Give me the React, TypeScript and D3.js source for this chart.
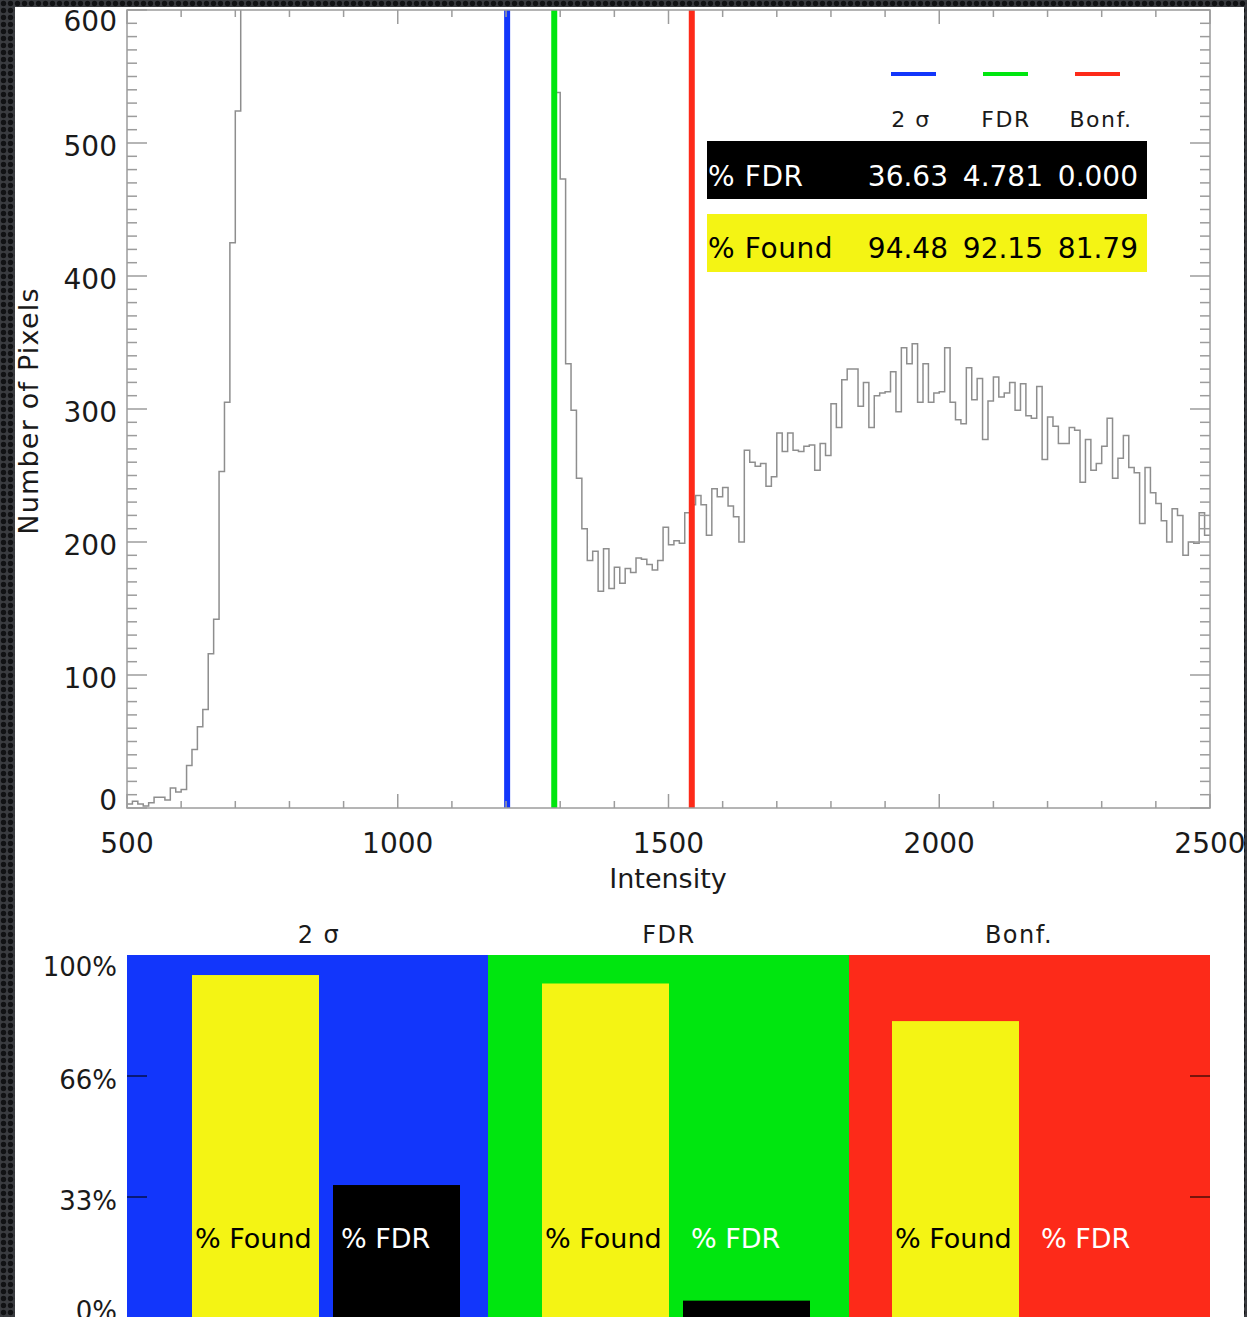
import React from "react";
import * as d3 from "d3";

// Histogram of pixel intensities: bins of 10 starting at 500
const histStart = 500;
const binWidth = 10;
const pixelCounts = [
  3, 5, 3, 1.5, 4, 8, 8, 6, 15, 12, 14,
  32, 44, 61, 74, 116, 142, 253, 305, 425, 524,
  690, 820, 960, 1110, 1270, 1420, 1580, 1720, 1850, 1960,
  2050, 2120, 2160, 2180, 2170, 2140, 2090, 2020, 1940, 1850,
  1750, 1650, 1550, 1450, 1350, 1260, 1180, 1100, 1030, 970,
  920, 880, 850, 830, 815, 805, 800, 795, 790, 785,
  780, 775, 770, 765, 760, 755, 750, 745, 740, 735,
  730, 725, 720, 710, 700, 680, 655, 620,
  538, 473, 334, 299, 248, 210, 186, 193, 163, 195, 165, 181, 169, 180, 177, 188, 187, 183, 179, 186, 211,
  198, 201, 199, 222, 228, 235, 228, 205, 240, 234, 241, 227, 219, 200, 269, 260, 257, 259, 242, 249,
  282, 268, 282, 269, 268, 272, 273, 254, 274, 265, 304, 286, 322, 330, 330, 302, 320, 286, 310, 312,
  313, 328, 298, 346, 334, 349, 305, 334, 305, 312, 313, 346, 305, 292, 289, 331, 307, 323, 277, 306,
  324, 309, 312, 320, 299, 319, 295, 293, 317, 262, 294, 287, 274, 274, 286, 284, 245, 277, 254, 259,
  272, 293, 248, 263, 280, 256, 252, 214, 256, 237, 229, 216, 200, 225, 220, 190, 200, 199, 222, 205,
];

// Thresholding methods
const methods = ["2 σ", "FDR", "Bonf."];
const thresholds = [1202, 1289, 1543];
const percentFDR = [36.63, 4.781, 0.0];
const percentFound = [94.48, 92.15, 81.79];
const methodColors = ["#1236fb", "#00e60f", "#fd2a19"];

const xTicks = [500, 1000, 1500, 2000, 2500];
const yTicks = [0, 100, 200, 300, 400, 500, 600];
const pctTickLabels = ["0%", "33%", "66%", "100%"];

const W = 1247;
const H = 1317;
const FONT = "'DejaVu Sans', sans-serif";
const INK = "#1a1a1a";
const AXIS = "#9c9c9c";
const YELLOW = "#f4f414";

export default function App() {
  // ---- upper histogram panel ----
  const x = d3.scaleLinear().domain([500, 2500]).range([127, 1210]);
  const y = d3.scaleLinear().domain([0, 600]).range([808, 10]);

  const pts: [number, number][] = pixelCounts.map((c, i) => [histStart + i * binWidth, c]);
  pts.push([histStart + pixelCounts.length * binWidth, pixelCounts[pixelCounts.length - 1]]);
  const stepLine = d3
    .line<[number, number]>()
    .x((d) => x(d[0]))
    .y((d) => y(d[1]))
    .curve(d3.curveStepAfter);

  const xMinor = d3.range(500, 2501, 100);
  const yMinor = d3.range(0, 601, 10);
  const [x0, x1] = x.range();
  const [yb0, yt0] = y.range();

  // legend / table columns (right edges of the value columns)
  const col = d3.scalePoint<string>().domain(methods).range([948, 1138]);
  const fmt = d3.format(".4r");

  // ---- lower bar panel ----
  const band = d3.scaleBand<string>().domain(methods).range([127, 1210]).paddingInner(0).paddingOuter(0);
  // left edge of each method's bar pair
  const pairStart = d3.scalePoint<string>().domain(methods).range([192, 892]);
  const barW = 127;
  const barGap = 14;
  const yPct = d3.scaleLinear().domain([0, 100]).range([1318, 955]);
  const pctTickVals = pctTickLabels.map((_, i) => (i * 100) / (pctTickLabels.length - 1));

  const yLabelShift = (i: number, n: number) => (i === 0 ? -8 : i === n - 1 ? 11 : 3);

  return (
    <svg
      width={W}
      height={H}
      style={{ position: "absolute", left: 0, top: 0, display: "block" }}
      fontFamily={FONT}
    >
      <defs>
        <pattern id="slideTexture" width="7" height="7" patternUnits="userSpaceOnUse">
          <rect width="7" height="7" fill="#3a3c40" />
          <circle cx="3.5" cy="3.5" r="2.7" fill="#111214" />
        </pattern>
        <clipPath id="panelClip">
          <rect x={15} y={7} width={1229} height={1310} />
        </clipPath>
        <clipPath id="plotClip">
          <rect x={x0} y={yt0} width={x1 - x0} height={yb0 - yt0} />
        </clipPath>
      </defs>

      <rect width={W} height={H} fill="url(#slideTexture)" />
      <rect x={15} y={7} width={1229} height={1310} fill="#ffffff" />

      <g clipPath="url(#panelClip)">
        {/* histogram */}
        <path
          d={stepLine(pts) ?? ""}
          fill="none"
          stroke="#8e8e8e"
          strokeWidth={1.5}
          clipPath="url(#plotClip)"
        />

        {/* threshold lines */}
        {methods.map((m, i) => (
          <line
            key={m}
            x1={x(thresholds[i])}
            x2={x(thresholds[i])}
            y1={yt0}
            y2={yb0}
            stroke={methodColors[i]}
            strokeWidth={6}
          />
        ))}

        {/* frame */}
        <rect x={x0} y={yt0} width={x1 - x0} height={yb0 - yt0} fill="none" stroke={AXIS} strokeWidth={1.5} />

        {/* x ticks, top and bottom */}
        {xMinor.map((v) => {
          const len = v % 500 === 0 ? 14 : 7;
          return (
            <g key={`xt${v}`} stroke={AXIS} strokeWidth={1.5}>
              <line x1={x(v)} x2={x(v)} y1={yb0} y2={yb0 - len} />
              <line x1={x(v)} x2={x(v)} y1={yt0} y2={yt0 + len} />
            </g>
          );
        })}
        {/* y ticks, left and right */}
        {yMinor.map((v) => {
          const len = v % 100 === 0 ? 20 : 10;
          return (
            <g key={`yt${v}`} stroke={AXIS} strokeWidth={1.5}>
              <line x1={x0} x2={x0 + len} y1={y(v)} y2={y(v)} />
              <line x1={x1} x2={x1 - len} y1={y(v)} y2={y(v)} />
            </g>
          );
        })}

        {/* tick labels */}
        {xTicks.map((v) => (
          <text key={`xl${v}`} x={x(v)} y={853} textAnchor="middle" fontSize={28} fill={INK}>
            {v}
          </text>
        ))}
        {yTicks.map((v, i) => (
          <text
            key={`yl${v}`}
            x={117}
            y={y(v) + yLabelShift(i, yTicks.length) + 10}
            textAnchor="end"
            fontSize={28}
            fill={INK}
          >
            {v}
          </text>
        ))}

        {/* axis titles */}
        <text x={668} y={888} textAnchor="middle" fontSize={27} fill={INK}>
          Intensity
        </text>
        <text
          transform="translate(38,411) rotate(-90)"
          textAnchor="middle"
          fontSize={27}
          letterSpacing={1.2}
          fill={INK}
        >
          Number of Pixels
        </text>

        {/* legend */}
        {methods.map((m, i) => {
          const r = col(m) as number;
          return (
            <g key={`lg${m}`}>
              <line x1={r - 57 + i * -3} x2={r - 12 + i * -3} y1={74} y2={74} stroke={methodColors[i]} strokeWidth={4} />
              <text x={r - 37} y={127} textAnchor="middle" fontSize={22} letterSpacing={1.5} fill={INK}>
                {m}
              </text>
            </g>
          );
        })}

        {/* summary table */}
        <rect x={707} y={141} width={440} height={58} fill="#000000" />
        <rect x={707} y={214} width={440} height={58} fill={YELLOW} />
        <text x={708} y={186} fontSize={28} letterSpacing={0.6} fill="#ffffff">
          % FDR
        </text>
        <text x={708} y={258} fontSize={28} letterSpacing={0.6} fill="#000000">
          % Found
        </text>
        {methods.map((m, i) => (
          <g key={`tv${m}`}>
            <text x={col(m)} y={186} textAnchor="end" fontSize={28} fill="#ffffff">
              {fmt(percentFDR[i])}
            </text>
            <text x={col(m)} y={258} textAnchor="end" fontSize={28} fill="#000000">
              {fmt(percentFound[i])}
            </text>
          </g>
        ))}

        {/* ---- lower panel: bars per method ---- */}
        {methods.map((m, i) => {
          const bx = band(m) as number;
          const fx = pairStart(m) as number;
          const dx = fx + barW + barGap;
          return (
            <g key={`bar${m}`}>
              <rect x={bx} y={yPct(100)} width={band.bandwidth()} height={yPct(0) - yPct(100)} fill={methodColors[i]} />
              <rect x={fx} y={yPct(percentFound[i])} width={barW} height={yPct(0) - yPct(percentFound[i])} fill={YELLOW} />
              {percentFDR[i] > 0 && (
                <rect x={dx} y={yPct(percentFDR[i])} width={barW} height={yPct(0) - yPct(percentFDR[i])} fill="#000000" />
              )}
              <text x={fx + 3} y={1248} fontSize={27} fill="#000000">
                % Found
              </text>
              <text x={dx + 8} y={1248} fontSize={27} fill="#ffffff">
                % FDR
              </text>
              <text x={fx + barW} y={943} textAnchor="middle" fontSize={24} letterSpacing={1.5} fill={INK}>
                {m}
              </text>
            </g>
          );
        })}
        {/* percentage axis */}
        {pctTickVals.map((v, i) => (
          <g key={`pt${i}`}>
            {i > 0 && i < pctTickVals.length - 1 && (
              <g stroke="#000000" strokeOpacity={0.7} strokeWidth={1.5}>
                <line x1={127} x2={147} y1={yPct(v)} y2={yPct(v)} />
                <line x1={1210} x2={1190} y1={yPct(v)} y2={yPct(v)} />
              </g>
            )}
            <text
              x={117}
              y={yPct(v) + yLabelShift(i, pctTickVals.length) + 9.5}
              textAnchor="end"
              fontSize={26}
              fill={INK}
            >
              {pctTickLabels[i]}
            </text>
          </g>
        ))}
      </g>
    </svg>
  );
}
